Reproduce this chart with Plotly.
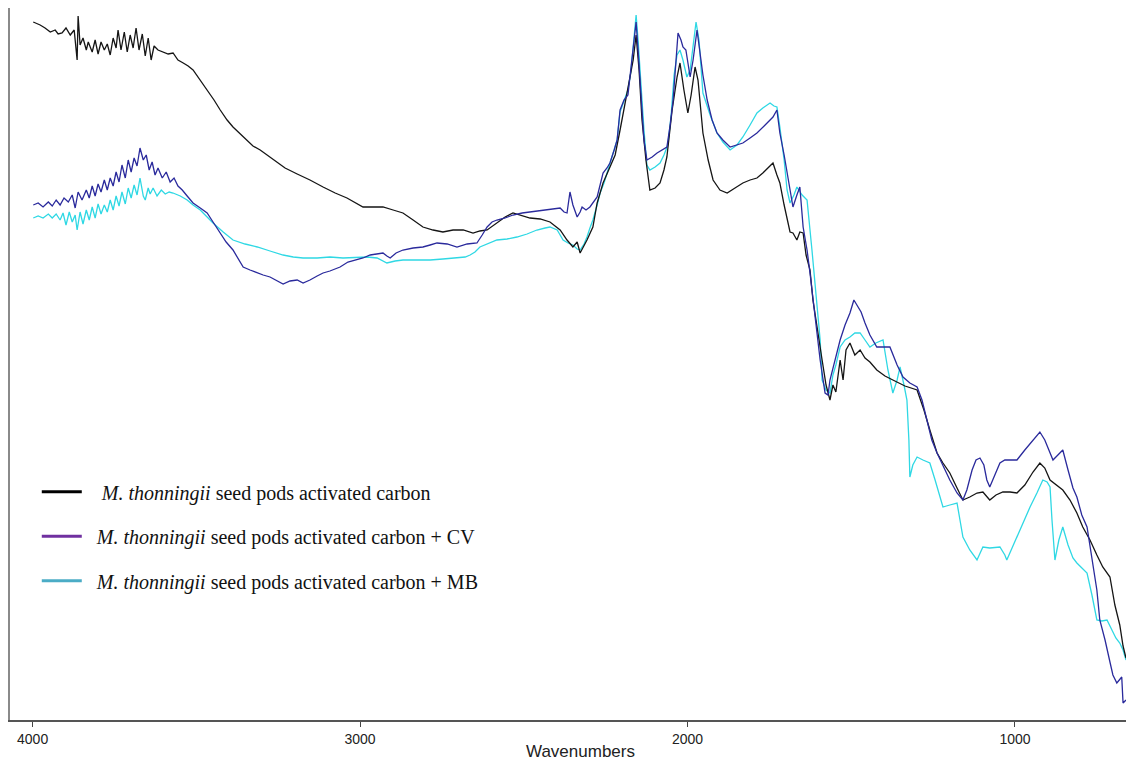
import plotly.graph_objects as go

# ---------------- data (wavenumber cm^-1, transmittance arb. units) ----------------
wn_ac = [3998, 3977, 3962, 3946, 3931, 3922, 3910, 3898, 3885, 3873, 3864, 3861, 3855, 3846, 3836, 3830,
         3818, 3809, 3800, 3791, 3781, 3772, 3763, 3754, 3745, 3739, 3730, 3720, 3711, 3702, 3693, 3684,
         3675, 3665, 3656, 3647, 3638, 3629, 3617, 3601, 3586, 3571, 3556, 3540, 3525, 3510, 3488, 3467,
         3446, 3427, 3406, 3388, 3366, 3345, 3327, 3305, 3275, 3253, 3229, 3192, 3153, 3113, 3076, 3040,
         3015, 2991, 2960, 2930, 2899, 2869, 2838, 2808, 2777, 2747, 2716, 2685, 2655, 2634, 2612, 2582,
         2557, 2533, 2505, 2481, 2450, 2420, 2389, 2368, 2350, 2337, 2328, 2307, 2289, 2276, 2258, 2237,
         2221, 2206, 2191, 2176, 2166, 2157, 2148, 2139, 2127, 2115, 2099, 2084, 2072, 2063, 2047, 2032,
         2023, 2011, 1999, 1989, 1977, 1968, 1953, 1937, 1922, 1901, 1879, 1855, 1831, 1809, 1788, 1770,
         1754, 1739, 1727, 1718, 1705, 1696, 1687, 1678, 1666, 1657, 1647, 1638, 1626, 1617, 1602, 1589,
         1577, 1565, 1556, 1547, 1534, 1525, 1516, 1504, 1489, 1473, 1458, 1443, 1422, 1397, 1373, 1336,
         1299, 1278, 1260, 1238, 1220, 1199, 1177, 1159, 1138, 1116, 1098, 1077, 1058, 1037, 1015, 994,
         970, 945, 924, 909, 893, 872, 854, 832, 811, 793, 771, 750, 732, 710, 695, 680, 670, 661]
t_ac = [69.8, 69.5, 69.2, 68.8, 69.0, 68.6, 68.7, 69.2, 68.5, 69.0, 66.0, 70.4, 67.5, 68.2, 67.0, 67.8,
        66.8, 68.0, 66.6, 67.8, 67.0, 67.6, 66.5, 68.2, 67.2, 69.0, 67.0, 68.8, 66.8, 68.5, 67.2, 69.2,
        67.0, 68.6, 66.4, 68.2, 66.0, 67.4, 67.0, 66.8, 66.6, 66.7, 66.0, 65.7, 65.4, 65.0, 64.0, 63.0,
        62.0, 61.0, 60.0, 59.3, 58.6, 58.0, 57.4, 57.0, 56.3, 55.7, 55.2, 54.6, 54.0, 53.3, 52.7, 52.2,
        51.7, 51.3, 51.3, 51.3, 51.0, 50.7, 50.0, 49.3, 49.0, 48.8, 49.0, 49.0, 48.7, 48.9, 49.0, 49.7,
        50.3, 50.7, 50.4, 50.2, 50.1, 49.8, 49.0, 48.0, 47.3, 47.8, 46.7, 48.0, 49.3, 51.7, 53.7, 55.3,
        56.5, 59.0, 61.5, 64.0, 66.0, 68.5, 65.0, 60.0, 56.0, 53.0, 53.2, 53.7, 55.0, 56.3, 61.0, 64.3,
        65.7, 63.0, 60.7, 62.5, 65.3, 64.0, 58.7, 56.0, 54.0, 53.0, 52.7, 53.2, 53.7, 54.0, 54.2, 54.7,
        55.2, 55.7, 54.5, 53.7, 51.5, 50.0, 48.8, 48.7, 48.0, 48.8, 48.7, 46.5, 45.0, 42.0, 39.0, 36.0,
        33.5, 32.0, 33.5, 32.8, 36.0, 34.0, 37.0, 37.7, 36.5, 37.0, 36.2, 35.8, 35.0, 34.4, 34.0, 33.4,
        33.0, 31.0, 29.0, 26.7, 25.7, 24.7, 23.2, 22.0, 22.3, 22.7, 22.8, 22.0, 22.5, 22.8, 22.8, 22.7,
        23.5, 24.8, 25.7, 25.2, 24.0, 23.5, 23.0, 22.0, 20.7, 19.3, 18.0, 16.5, 15.3, 14.3, 11.5, 9.5, 7.4, 6.2]

wn_cv = [3998, 3983, 3968, 3952, 3940, 3928, 3916, 3904, 3891, 3879, 3870, 3861, 3849, 3836, 3827, 3818,
         3809, 3800, 3791, 3781, 3772, 3763, 3754, 3745, 3736, 3727, 3717, 3708, 3699, 3690, 3681, 3672,
         3662, 3653, 3644, 3635, 3626, 3617, 3604, 3592, 3580, 3568, 3556, 3543, 3528, 3510, 3488, 3467,
         3449, 3427, 3409, 3388, 3357, 3336, 3314, 3296, 3275, 3253, 3235, 3214, 3192, 3174, 3153, 3131,
         3113, 3092, 3061, 3037, 3009, 2991, 2969, 2948, 2930, 2918, 2908, 2890, 2869, 2838, 2808, 2786,
         2765, 2734, 2704, 2673, 2643, 2627, 2612, 2597, 2582, 2557, 2533, 2505, 2481, 2450, 2429, 2405,
         2389, 2377, 2368, 2359, 2350, 2337, 2328, 2322, 2310, 2298, 2286, 2276, 2267, 2258, 2246, 2237,
         2224, 2215, 2206, 2194, 2182, 2173, 2163, 2157, 2151, 2142, 2133, 2124, 2108, 2093, 2078, 2063,
         2053, 2044, 2035, 2029, 2020, 2014, 2005, 1992, 1983, 1971, 1965, 1953, 1940, 1925, 1910, 1892,
         1870, 1849, 1831, 1809, 1788, 1763, 1739, 1727, 1718, 1705, 1696, 1687, 1678, 1666, 1657, 1647,
         1635, 1626, 1617, 1605, 1595, 1580, 1571, 1565, 1550, 1534, 1519, 1504, 1492, 1483, 1470, 1458,
         1443, 1422, 1403, 1382, 1360, 1342, 1321, 1299, 1284, 1269, 1254, 1238, 1214, 1199, 1177, 1159,
         1147, 1131, 1119, 1107, 1095, 1086, 1077, 1061, 1046, 1031, 1015, 994, 970, 945, 924, 909,
         893, 884, 869, 854, 838, 823, 811, 796, 780, 765, 750, 741, 725, 710, 701, 689, 674, 670, 661]
t_cv = [51.5, 51.7, 51.3, 51.8, 51.4, 52.0, 51.5, 52.2, 51.8, 52.5, 51.2, 52.8, 52.0, 53.0, 52.2, 53.4,
        52.4, 53.6, 52.8, 54.0, 53.0, 54.2, 53.4, 54.8, 53.8, 55.5, 54.2, 56.0, 54.8, 56.2, 55.4, 57.2,
        56.0, 56.5, 55.0, 55.8, 54.5, 55.2, 54.2, 54.8, 53.8, 54.2, 53.4, 53.0, 52.4, 51.7, 51.2, 50.7,
        49.8, 48.7, 47.8, 47.0, 45.3, 45.0, 44.7, 44.5, 44.3, 43.9, 43.6, 43.9, 44.0, 43.7, 44.0, 44.4,
        44.7, 44.9, 45.3, 45.8, 46.0, 46.2, 46.5, 46.6, 46.7, 46.4, 46.2, 46.7, 47.0, 47.2, 47.3, 47.5,
        47.7, 47.6, 47.3, 47.6, 47.7, 48.5, 49.3, 49.8, 50.0, 50.2, 50.5, 50.7, 50.8, 50.9, 51.0, 51.1,
        51.2, 50.8, 50.7, 52.8, 51.5, 50.3, 50.8, 51.3, 51.0, 51.3, 51.8, 52.3, 53.5, 54.7, 55.2, 55.7,
        57.0, 58.0, 61.0, 62.0, 62.5, 65.0, 68.0, 69.8, 67.0, 62.0, 58.0, 56.0, 56.3, 56.7, 57.0, 57.3,
        59.5, 62.0, 66.0, 68.7, 68.0, 67.3, 67.0, 64.3, 66.0, 69.0, 67.5, 64.5, 62.0, 60.0, 58.7, 58.0,
        57.3, 57.5, 57.7, 58.2, 58.7, 59.5, 60.3, 61.0, 58.7, 56.5, 54.7, 53.0, 51.3, 52.5, 53.3, 49.3,
        47.0, 44.7, 42.0, 39.0, 36.0, 32.7, 32.5, 34.0, 36.0, 38.0, 39.5, 40.7, 42.0, 41.5, 40.8, 39.7,
        38.5, 37.3, 37.3, 37.3, 35.5, 34.3, 33.7, 33.3, 32.0, 30.0, 28.0, 26.7, 25.0, 24.0, 22.7, 22.0,
        23.0, 25.0, 26.0, 26.2, 25.5, 24.0, 23.3, 24.5, 25.7, 26.0, 26.0, 26.0, 27.0, 28.0, 28.8, 28.0,
        26.7, 26.0, 26.5, 27.0, 25.0, 23.2, 22.3, 20.5, 19.3, 16.0, 13.0, 10.0, 8.0, 5.8, 4.5, 3.7, 4.3, 1.7, 2.0]

wn_mb = [3998, 3983, 3968, 3952, 3940, 3928, 3916, 3907, 3898, 3888, 3879, 3870, 3864, 3855, 3846, 3836,
         3827, 3818, 3809, 3800, 3791, 3781, 3772, 3763, 3754, 3745, 3736, 3727, 3717, 3708, 3699, 3690,
         3681, 3672, 3662, 3656, 3647, 3641, 3632, 3620, 3607, 3595, 3583, 3571, 3549, 3528, 3510, 3488,
         3467, 3449, 3418, 3388, 3351, 3314, 3275, 3235, 3204, 3174, 3131, 3092, 3052, 3009, 2979, 2948,
         2918, 2893, 2869, 2826, 2786, 2747, 2704, 2679, 2664, 2649, 2634, 2603, 2582, 2551, 2521, 2490,
         2460, 2435, 2420, 2398, 2380, 2365, 2350, 2337, 2328, 2316, 2307, 2298, 2289, 2276, 2267, 2255,
         2246, 2234, 2224, 2215, 2206, 2194, 2182, 2173, 2163, 2157, 2151, 2142, 2133, 2124, 2115, 2099,
         2084, 2072, 2060, 2050, 2041, 2032, 2023, 2014, 2002, 1992, 1983, 1974, 1965, 1953, 1931, 1910,
         1892, 1870, 1849, 1831, 1809, 1788, 1770, 1748, 1736, 1727, 1718, 1705, 1696, 1687, 1675, 1666,
         1650, 1635, 1620, 1605, 1595, 1589, 1577, 1565, 1556, 1547, 1534, 1519, 1504, 1489, 1473, 1458,
         1443, 1425, 1403, 1388, 1373, 1360, 1351, 1339, 1330, 1324, 1321, 1312, 1299, 1281, 1260, 1244,
         1229, 1220, 1199, 1177, 1168, 1159, 1138, 1116, 1098, 1077, 1046, 1031, 1025, 1009, 994, 976,
         954, 933, 915, 902, 893, 887, 878, 866, 854, 838, 823, 811, 796, 780, 765, 750, 735, 719,
         704, 692, 680, 670, 661]
t_mb = [50.2, 50.4, 50.2, 50.6, 50.2, 50.6, 50.0, 50.7, 49.5, 50.8, 49.8, 50.5, 49.0, 50.8, 49.6, 51.0,
        50.0, 51.3, 50.2, 51.6, 50.6, 51.5, 50.8, 52.0, 51.0, 52.4, 51.4, 52.8, 51.6, 53.2, 52.2, 53.5,
        52.5, 54.2, 52.4, 52.0, 53.2, 52.6, 53.2, 52.4, 53.0, 52.6, 52.8, 52.7, 52.4, 52.0, 51.5, 51.0,
        50.3, 49.7, 48.8, 48.0, 47.6, 47.3, 46.9, 46.5, 46.3, 46.2, 46.2, 46.3, 46.2, 46.3, 46.3, 46.2,
        45.7, 45.9, 46.0, 46.0, 46.0, 46.1, 46.2, 46.3, 46.5, 46.8, 47.3, 47.7, 48.0, 48.1, 48.3, 48.6,
        49.0, 49.2, 49.3, 49.0, 48.0, 47.7, 47.5, 47.1, 47.0, 47.6, 48.3, 49.2, 50.0, 51.5, 52.7, 53.7,
        54.7, 56.0, 57.2, 58.0, 60.8, 61.8, 63.0, 64.8, 68.0, 70.5, 68.0, 63.0, 59.0, 55.5, 55.0, 55.3,
        55.7, 56.5, 57.5, 60.5, 64.5, 66.5, 67.0, 66.0, 64.3, 65.0, 67.5, 69.8, 68.0, 62.7, 60.5, 58.7,
        57.8, 57.0, 57.5, 58.3, 59.5, 60.7, 61.2, 61.7, 61.4, 61.3, 59.3, 56.0, 53.0, 51.7, 52.5, 53.3,
        52.5, 52.0, 47.0, 42.0, 38.0, 34.0, 33.0, 32.7, 34.5, 35.5, 37.3, 38.0, 38.3, 38.7, 38.7, 38.0,
        37.3, 37.7, 38.0, 35.0, 32.7, 34.0, 35.3, 33.5, 32.0, 28.0, 24.3, 25.5, 26.3, 26.0, 25.7, 24.0,
        22.2, 21.3, 21.5, 21.7, 20.0, 18.3, 17.0, 16.0, 17.3, 17.2, 17.3, 16.5, 16.0, 17.2, 18.3, 19.8,
        21.3, 22.7, 24.0, 23.8, 23.3, 20.0, 16.0, 18.0, 19.3, 17.5, 16.2, 15.7, 15.2, 14.7, 12.5, 10.0, 9.9, 10.0,
        9.0, 8.2, 7.7, 7.0, 6.0]

series_names = [
    "&#160;<i>M. thonningii</i> seed pods activated carbon",
    "<i>M. thonningii</i> seed pods activated carbon + CV",
    "<i>M. thonningii</i> seed pods activated carbon + MB",
]
line_colors = ["#151515", "#2a2a9c", "#2fd8e4"]
legend_colors = ["#000000", "#7030a0", "#4bacc6"]
x_ticks = [4000, 3000, 2000, 1000]

fig = go.Figure()
for wn, t, col in [(wn_mb, t_mb, line_colors[2]), (wn_ac, t_ac, line_colors[0]), (wn_cv, t_cv, line_colors[1])]:
    fig.add_trace(go.Scatter(x=wn, y=t, mode="lines", line=dict(color=col, width=1.3),
                             showlegend=False, hoverinfo="skip"))

for i, (nm, col) in enumerate(zip(series_names, legend_colors)):
    fig.add_trace(go.Scatter(x=[None], y=[None], mode="lines", name="&#160;&#160;" + nm,
                             line=dict(color=col, width=3), legendgroup=str(i)))

fig.update_layout(
    width=1126, height=763,
    margin=dict(l=10, r=0, t=8, b=43),
    paper_bgcolor="white", plot_bgcolor="white",
    showlegend=True,
    legend=dict(x=0.024, y=0.348, xanchor="left", yanchor="top",
                font=dict(family="Liberation Serif, Times New Roman, serif", size=20, color="#111"),
                tracegroupgap=15.5, bgcolor="rgba(0,0,0,0)", itemwidth=40),
    xaxis=dict(range=[4069, 661], tickvals=x_ticks, ticktext=[str(v) for v in x_ticks],
               showgrid=False, zeroline=False, showline=True, linecolor="#555", linewidth=2,
               ticks="outside", ticklen=5, tickcolor="#444", tickwidth=1,
               tickfont=dict(family="Liberation Sans Narrow, Arial, sans-serif", size=14, color="#222")),
    yaxis=dict(range=[0, 71.2], showgrid=False, zeroline=False, showline=True, linecolor="#8a8a8a",
               linewidth=2, showticklabels=False, ticks=""),
    annotations=[dict(text="Wavenumbers", x=0.511, y=-0.044, xref="paper", yref="paper",
                      xanchor="center", yanchor="middle", showarrow=False,
                      font=dict(family="Liberation Sans Narrow, Arial, sans-serif", size=17, color="#222"))],
)

fig.write_html("out.html", config={"displayModeBar": False},
               post_script="document.body.style.margin='0';document.body.style.overflow='hidden';")
